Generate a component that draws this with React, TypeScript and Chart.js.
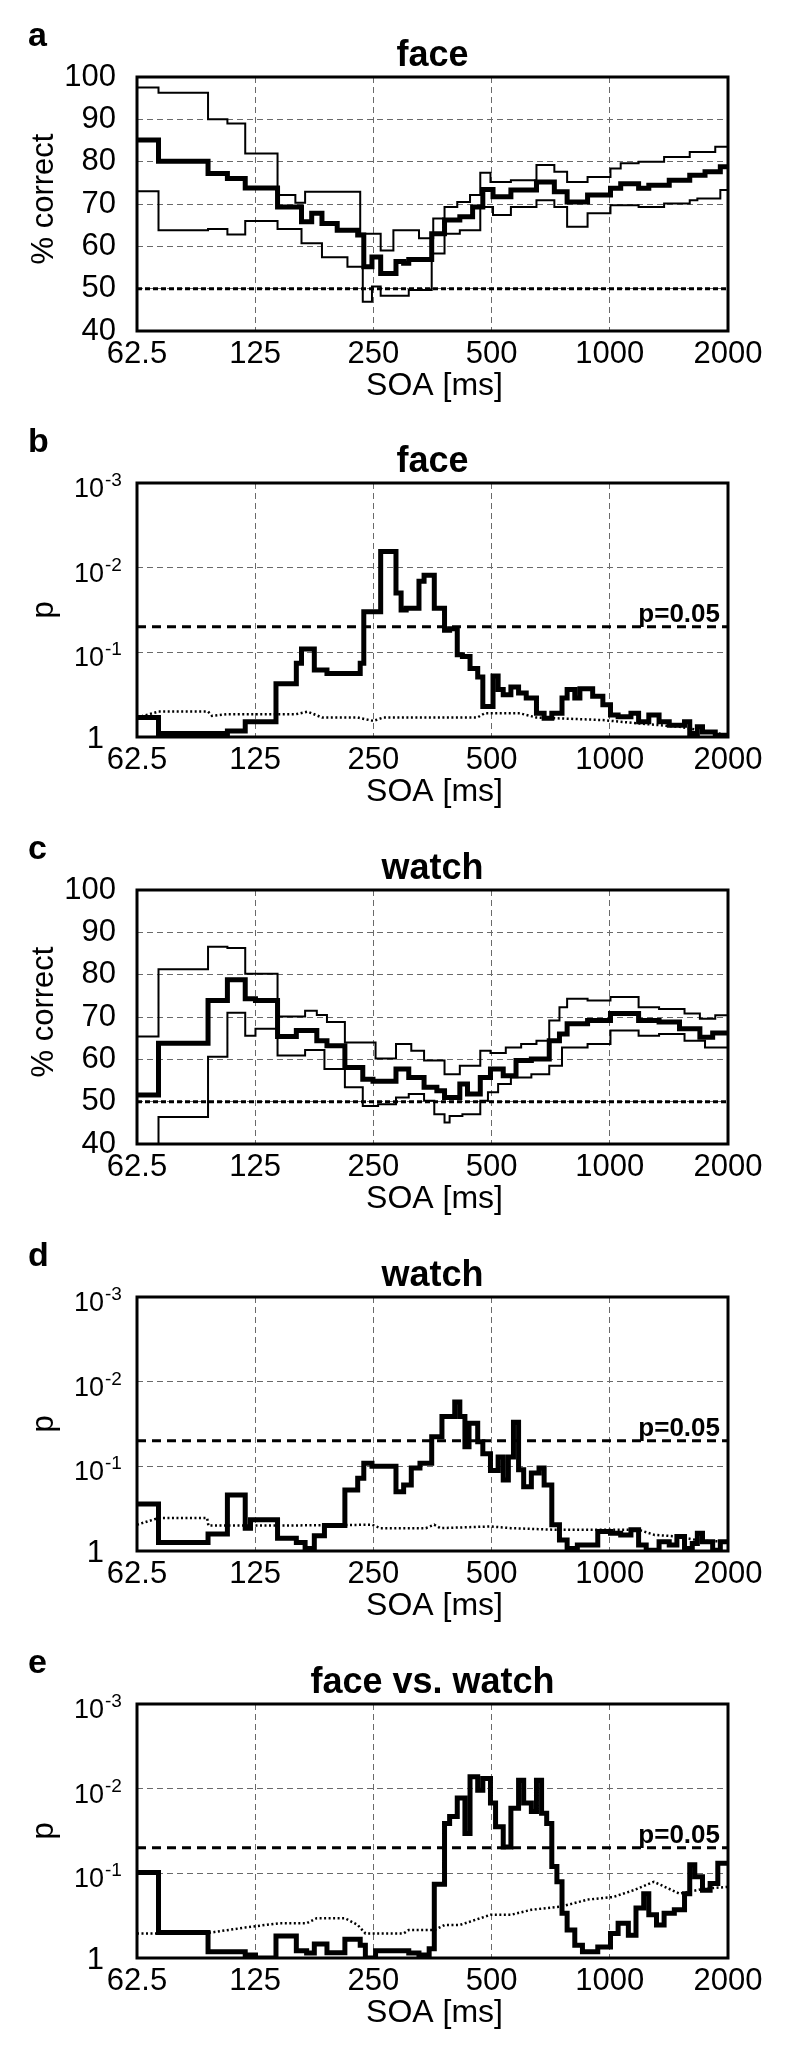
import React, { useEffect, useRef } from 'react';
import { Chart, registerables } from 'chart.js';

Chart.register(...registerables);

const FONT = '"Liberation Sans", Arial, Helvetica, sans-serif';

// ---------- axis ticks ----------
const xTickValues = [62.5, 125, 250, 500, 1000, 2000];
const xTickLabels = ['62.5', '125', '250', '500', '1000', '2000'];
const pctMin = 40;
const pctMax = 100;
const pctStep = 10;
const pExponents = [0, 1, 2, 3]; // tick positions in -log10(p)
const chanceLevel = 50;
const pThreshold = 0.05;

// ---------- panel a : face, % correct ([SOA ms, %]) ----------
const faceMean = [
  [62.5, 85.1], [70.9, 80.1], [94.8, 77.2], [106.2, 76.0], [117.9, 73.8], [142.5, 69.3],
  [164, 65.8], [174.1, 67.8], [184.9, 65.4], [202.2, 63.8], [228, 62.7], [236.3, 55.2],
  [247.9, 57.5], [260.9, 53.6], [285.4, 56.4], [298.5, 56.0], [307.6, 56.9], [351.9, 63.0],
  [379.4, 66.2], [415, 67.0], [447.3, 69.3], [474.9, 73.4], [504.2, 71.7], [559.9, 73.3],
  [650.5, 75.2], [722.4, 72.9], [778.6, 70.5], [877.8, 72.1], [1004, 73.7], [1066, 74.8],
  [1184, 73.7], [1257, 74.4], [1417, 75.6], [1598, 76.8], [1748, 77.6], [1912, 78.8], [2000, 78.8],
];
const faceUpper = [
  [62.5, 97.5], [70.9, 96.3], [94.8, 90.0], [106.2, 89.0], [117.9, 81.9], [142.5, 72.1],
  [158.2, 70.3], [167.5, 72.9], [231.4, 63.0], [260.9, 59.0], [281.1, 63.8], [326.6, 61.9],
  [355.1, 66.6], [379.4, 69.3], [408.8, 70.5], [440.6, 72.1], [467.9, 77.4], [496.7, 75.2],
  [559.9, 75.6], [650.5, 79.2], [722.4, 77.6], [778.6, 75.2], [877.8, 76.4], [1004, 78.4],
  [1066, 79.6], [1184, 80.0], [1375, 81.1], [1598, 82.3], [1856, 83.5], [2000, 83.5],
];
const faceLower = [
  [62.5, 73.0], [70.9, 63.8], [94.8, 64.1], [106.2, 62.8], [117.9, 66.0], [142.5, 64.1],
  [164, 60.7], [184.9, 57.4], [214.7, 55.2], [234.9, 46.9], [247.9, 50.5], [260.9, 48.3],
  [307.6, 49.7], [351.9, 58.3], [379.4, 63.0], [415, 63.8], [467.9, 69.3], [504.2, 67.4],
  [559.9, 69.3], [650.5, 70.9], [722.4, 69.3], [778.6, 64.6], [877.8, 67.8], [1004, 69.7],
  [1184, 69.3], [1375, 70.1], [1598, 70.9], [1671, 71.3], [1912, 73.3], [2000, 73.3],
];

// ---------- panel b : face, -log10(p) ----------
const faceNegLogP = [
  [62.5, 0.23], [70.9, 0.04], [106.2, 0.07], [117.9, 0.18], [141.2, 0.63], [159.1, 0.87],
  [164, 1.04], [176.8, 0.79], [190.4, 0.75], [231.4, 0.87], [236.3, 1.48], [260.9, 2.19],
  [285.4, 1.70], [294.1, 1.50], [303, 1.52], [326.6, 1.84], [336.5, 1.91], [357.3, 1.52],
  [379.4, 1.26], [390.9, 1.28], [408.8, 0.97], [421.3, 0.95], [440.6, 0.81], [460.9, 0.71],
  [474.9, 0.36], [504.2, 0.72], [519.5, 0.56], [535.3, 0.50], [559.9, 0.59], [585.7, 0.52],
  [612.6, 0.46], [650.5, 0.28], [680.4, 0.22], [711.7, 0.28], [755.6, 0.46], [778.6, 0.56],
  [814.4, 0.46], [839.2, 0.57], [904.4, 0.48], [960.1, 0.38], [1004, 0.26], [1050, 0.24],
  [1132, 0.28], [1184, 0.18], [1257, 0.26], [1335, 0.18], [1417, 0.14], [1550, 0.18],
  [1598, 0.04], [1671, 0.12], [1722, 0.06], [1856, 0.02], [2000, 0.02],
];
const faceNullNegLogP = [
  [62.5, 0.23], [70.9, 0.30], [94.8, 0.30], [97, 0.25], [106, 0.27], [159, 0.27], [170, 0.30],
  [185, 0.23], [228, 0.23], [250, 0.19], [265, 0.23], [460, 0.23], [480, 0.28], [590, 0.28],
  [650, 0.23], [960, 0.20], [1184, 0.16], [1505, 0.12], [1750, 0.07], [2000, 0.02],
];

// ---------- panel c : watch, % correct ----------
const watchMean = [
  [62.5, 51.6], [70.9, 63.8], [94.8, 73.9], [106.2, 78.8], [117.9, 74.3], [125.2, 73.9],
  [142.5, 65.4], [159.1, 66.8], [179.4, 64.4], [190.4, 63.2], [211.5, 58.1], [234.9, 55.3],
  [249.4, 54.8], [285.4, 57.7], [307.6, 55.7], [336.5, 53.4], [362.7, 52.6], [379.4, 51.0],
  [415, 54.2], [434.1, 51.8], [467.9, 55.7], [496.7, 57.7], [535.3, 56.1], [577, 59.7],
  [631.3, 60.1], [701.1, 64.4], [744.4, 66.0], [778.6, 68.4], [877.8, 69.2], [1004, 70.8],
  [1184, 69.2], [1335, 68.8], [1505, 67.2], [1696, 65.2], [1828, 66.2], [2000, 66.2],
];
const watchUpper = [
  [62.5, 65.4], [70.9, 81.3], [94.8, 86.6], [106.2, 86.3], [117.9, 80.2], [142.5, 70.1],
  [167.5, 71.5], [179.4, 70.5], [190.4, 68.8], [211.5, 64.0], [253.2, 60.2], [285.4, 63.6],
  [312.2, 62.0], [336.5, 59.7], [379.4, 56.5], [415, 58.5], [467.9, 62.0], [496.7, 61.5],
  [543.4, 62.8], [594.6, 63.6], [650.5, 64.4], [701.1, 69.2], [744.4, 72.3], [778.6, 74.3],
  [877.8, 73.9], [1004, 74.7], [1184, 72.3], [1335, 71.9], [1550, 70.8], [1696, 69.6],
  [1856, 70.4], [2000, 70.4],
];
const watchLower = [
  [62.5, 35.0], [70.9, 46.4], [94.8, 60.6], [106.2, 71.0], [117.9, 65.6], [125.2, 67.2],
  [142.5, 60.9], [167.5, 62.2], [187.6, 57.7], [211.5, 53.4], [234.9, 49.0], [257, 49.4],
  [285.4, 51.0], [307.6, 51.8], [336.5, 50.2], [357.3, 47.0], [379.4, 45.1], [390.9, 46.6],
  [421.3, 47.0], [467.9, 50.2], [489.4, 52.2], [519.5, 54.2], [559.9, 55.7], [631.3, 56.5],
  [701.1, 58.5], [755.6, 62.8], [877.8, 63.6], [1004, 66.8], [1184, 65.6], [1335, 66.0],
  [1550, 64.4], [1748, 62.8], [2000, 62.8],
];

// ---------- panel d : watch, -log10(p) ----------
const watchNegLogP = [
  [62.5, 0.555], [70.9, 0.10], [94.8, 0.20], [106.2, 0.66], [117.9, 0.27], [121.6, 0.37],
  [142.5, 0.15], [159.1, 0.10], [167.5, 0.03], [176.8, 0.18], [187.6, 0.30], [211.5, 0.72],
  [228, 0.86], [236.3, 1.035], [247.9, 1.0], [285.4, 0.70], [298.5, 0.78], [312.2, 0.98],
  [328.5, 1.035], [351.9, 1.35], [373.7, 1.59], [402.8, 1.76], [415, 1.59], [427.6, 1.23],
  [438, 1.51], [460.9, 1.29], [474.9, 1.15], [496.7, 0.95], [519.5, 1.11], [535.3, 0.84],
  [551.6, 1.11], [568.4, 1.52], [585.7, 0.96], [603.5, 0.76], [631.3, 0.92], [660.3, 0.98],
  [680.4, 0.78], [711.7, 0.31], [744.4, 0.13], [778.6, 0.03], [826.7, 0.07], [931.9, 0.23],
  [1004, 0.21], [1066, 0.19], [1132, 0.25], [1184, 0.07], [1238, 0.01], [1335, 0.11],
  [1417, 0.07], [1482, 0.17], [1550, 0.03], [1622, 0.09], [1671, 0.21], [1722, 0.11],
  [1828, 0.01], [1912, 0.11], [2000, 0.11],
];
const watchNullNegLogP = [
  [62.5, 0.31], [70.9, 0.39], [94.3, 0.39], [95, 0.30], [141, 0.30], [248, 0.31], [260, 0.27],
  [340, 0.27], [357, 0.31], [370, 0.27], [496, 0.29], [560, 0.27], [730, 0.25], [1184, 0.25],
  [1300, 0.19], [1500, 0.17], [1700, 0.12], [2000, 0.11],
];

// ---------- panel e : face vs. watch, -log10(p) ----------
const diffNegLogP = [
  [62.5, 1.01], [70.9, 0.30], [94.8, 0.075], [117.9, 0.035], [125.2, 0.0], [141.2, 0.26],
  [159.1, 0.087], [169, 0.06], [176.8, 0.165], [190.4, 0.063], [211.5, 0.22], [231.4, 0.15],
  [238.5, 0.0], [253.2, 0.087], [307.6, 0.06], [326.6, 0.035], [346.7, 0.11], [357.3, 0.87],
  [379.4, 1.59], [390.9, 1.67], [408.8, 1.89], [427.6, 1.47], [440.6, 2.14], [460.9, 1.98],
  [474.9, 2.12], [496.7, 1.83], [511.8, 1.55], [535.3, 1.31], [559.9, 1.77], [585.7, 2.10],
  [603.5, 1.83], [631.3, 1.73], [650.5, 2.10], [670.3, 1.71], [690.7, 1.59], [711.7, 1.08],
  [733.3, 0.90], [755.6, 0.53], [778.6, 0.33], [814.4, 0.15], [851.8, 0.075], [931.9, 0.13],
  [1004, 0.29], [1050, 0.41], [1115, 0.27], [1166, 0.59], [1220, 0.76], [1257, 0.51],
  [1315, 0.39], [1375, 0.53], [1460, 0.57], [1550, 0.76], [1598, 1.10], [1646, 0.96],
  [1722, 0.80], [1801, 0.88], [1884, 1.12], [2000, 1.12],
];
const diffNullNegLogP = [
  [62.5, 0.29], [92.8, 0.29], [117.9, 0.36], [143.5, 0.41], [169, 0.41], [179.4, 0.47],
  [211.5, 0.47], [228, 0.39], [238.5, 0.29], [298.5, 0.29], [307.6, 0.33], [357.3, 0.33],
  [379.4, 0.39], [415, 0.39], [454, 0.45], [496.7, 0.51], [559.9, 0.51], [631.3, 0.57],
  [755.6, 0.61], [877.8, 0.69], [1019, 0.72], [1149, 0.80], [1295, 0.90], [1505, 0.76],
  [1748, 0.82], [2000, 0.84],
];

// ---------- layout constants ----------
const PANEL_TOPS = [0, 406, 813, 1220, 1627];
const PANEL_H = 407;
const AREA_TOP = 77;
const AREA_BOTTOM = 331;
const AREA_LEFT = 137;
const AREA_RIGHT = 728;

type Pair = number[];
const toXY = (arr: Pair[]) => arr.map(([x, y]) => ({ x, y }));
const xEnds = [xTickValues[0], xTickValues[xTickValues.length - 1]];
const hLine = (v: number) => xEnds.map((x) => ({ x, y: v }));

type PanelCfg = {
  letter: string;
  title: string;
  kind: 'pct' | 'p';
  main: Pair[];
  upper?: Pair[];
  lower?: Pair[];
  nullLine?: Pair[];
};

const panels: PanelCfg[] = [
  { letter: 'a', title: 'face', kind: 'pct', main: faceMean, upper: faceUpper, lower: faceLower },
  { letter: 'b', title: 'face', kind: 'p', main: faceNegLogP, nullLine: faceNullNegLogP },
  { letter: 'c', title: 'watch', kind: 'pct', main: watchMean, upper: watchUpper, lower: watchLower },
  { letter: 'd', title: 'watch', kind: 'p', main: watchNegLogP, nullLine: watchNullNegLogP },
  { letter: 'e', title: 'face vs. watch', kind: 'p', main: diffNegLogP, nullLine: diffNullNegLogP },
];

const decorPlugin = {
  id: 'decor',
  afterDatasetsDraw(chart: any) {
    const { ctx, chartArea: ca } = chart;
    ctx.save();
    ctx.strokeStyle = '#000';
    ctx.lineWidth = 3;
    ctx.setLineDash([]);
    ctx.strokeRect(ca.left, ca.top, ca.right - ca.left, ca.bottom - ca.top);
    ctx.restore();
  },
  afterDraw(chart: any, _args: any, o: any) {
    const { ctx, chartArea: ca, scales } = chart;
    const cx = (ca.left + ca.right) / 2;
    ctx.save();
    ctx.fillStyle = '#000';
    ctx.textBaseline = 'alphabetic';

    ctx.font = `bold 34px ${FONT}`;
    ctx.textAlign = 'left';
    ctx.fillText(o.letter, 28, 46);

    ctx.font = `bold 36px ${FONT}`;
    ctx.textAlign = 'center';
    ctx.fillText(o.title, cx, 66);

    ctx.font = `32px ${FONT}`;
    ctx.fillText('SOA [ms]', cx + 2, ca.bottom + 64);

    ctx.save();
    const yc = (ca.top + ca.bottom) / 2 + (o.kind === 'pct' ? -5 : 0);
    ctx.translate(53, yc);
    ctx.rotate(-Math.PI / 2);
    ctx.font = `31px ${FONT}`;
    ctx.textAlign = 'center';
    ctx.fillText(o.kind === 'pct' ? '% correct' : 'p', 0, 0);
    ctx.restore();

    if (o.kind === 'p') {
      const ys = scales.y;
      pExponents.forEach((k) => {
        const y = ys.getPixelForValue(k);
        if (k === 0) {
          ctx.font = `31px ${FONT}`;
          ctx.textAlign = 'right';
          ctx.fillText('1', 104, y + 11);
        } else {
          ctx.font = `27px ${FONT}`;
          ctx.textAlign = 'right';
          ctx.fillText('10', 104, y + 14);
          ctx.font = `19px ${FONT}`;
          ctx.textAlign = 'left';
          ctx.fillText('-' + k, 105, y + 3);
        }
      });
      const ty = ys.getPixelForValue(-Math.log10(pThreshold));
      ctx.font = `bold 26px ${FONT}`;
      ctx.textAlign = 'right';
      ctx.fillText('p=' + String(pThreshold), ca.right - 8, ty - 5);
    }
    ctx.restore();
  },
};

function buildConfig(cfg: PanelCfg): any {
  const datasets: any[] = [];
  const base = { pointRadius: 0, borderColor: '#000', backgroundColor: '#000', fill: false, tension: 0 };
  if (cfg.kind === 'pct') {
    datasets.push({ ...base, data: hLine(chanceLevel), borderWidth: 3, borderDash: [5, 3], stepped: false });
    datasets.push({ ...base, data: toXY(cfg.main), borderWidth: 5, stepped: true });
    datasets.push({ ...base, data: toXY(cfg.upper!), borderWidth: 2, stepped: true });
    datasets.push({ ...base, data: toXY(cfg.lower!), borderWidth: 2, stepped: true });
  } else {
    datasets.push({ ...base, data: hLine(-Math.log10(pThreshold)), borderWidth: 3, borderDash: [9, 6], stepped: false });
    datasets.push({ ...base, data: toXY(cfg.main), borderWidth: 5, stepped: true });
    datasets.push({ ...base, data: toXY(cfg.nullLine!), borderWidth: 2.5, borderDash: [2, 2.5], stepped: false });
  }

  const grid = { color: '#6a6a6a', lineWidth: 1, drawTicks: false };
  const border = { display: false, dash: [6, 4] };

  const yScale: any =
    cfg.kind === 'pct'
      ? {
          type: 'linear',
          min: pctMin,
          max: pctMax,
          ticks: { stepSize: pctStep, padding: 21, color: '#000', font: { family: FONT, size: 31 } },
          grid,
          border,
          afterFit: (s: any) => { s.width = AREA_LEFT; },
        }
      : {
          type: 'linear',
          min: pExponents[0],
          max: pExponents[pExponents.length - 1],
          ticks: { stepSize: 1, display: false },
          grid,
          border,
          afterFit: (s: any) => { s.width = AREA_LEFT; },
        };

  return {
    type: 'line',
    data: { datasets },
    plugins: [decorPlugin],
    options: {
      responsive: false,
      maintainAspectRatio: false,
      devicePixelRatio: 1,
      animation: false,
      events: [],
      layout: { padding: { top: AREA_TOP, right: 800 - AREA_RIGHT, bottom: 0, left: 0 } },
      plugins: {
        legend: { display: false },
        tooltip: { enabled: false },
        title: { display: false },
        decor: { letter: cfg.letter, title: cfg.title, kind: cfg.kind },
      },
      scales: {
        x: {
          type: 'logarithmic',
          min: xTickValues[0],
          max: xTickValues[xTickValues.length - 1],
          afterBuildTicks: (s: any) => { s.ticks = xTickValues.map((v) => ({ value: v })); },
          afterFit: (s: any) => { s.height = PANEL_H - AREA_BOTTOM; },
          ticks: {
            autoSkip: false,
            maxRotation: 0,
            minRotation: 0,
            padding: 5,
            color: '#000',
            font: { family: FONT, size: 31 },
            callback: (_v: any, i: number) => xTickLabels[i],
          },
          grid,
          border,
        },
        y: yScale,
      },
    },
  };
}

function Panel({ cfg, top }: { cfg: PanelCfg; top: number }) {
  const ref = useRef<HTMLCanvasElement>(null);
  useEffect(() => {
    const chart = new Chart(ref.current as HTMLCanvasElement, buildConfig(cfg));
    return () => chart.destroy();
  }, [cfg]);
  return (
    <canvas
      ref={ref}
      width={800}
      height={PANEL_H}
      style={{ position: 'absolute', left: 0, top, width: 800, height: PANEL_H, display: 'block' }}
    />
  );
}

export default function App() {
  return (
    <div style={{ position: 'absolute', left: 0, top: 0, width: 800, height: 2046, background: '#fff' }}>
      {panels.map((p, i) => (
        <Panel key={p.letter} cfg={p} top={PANEL_TOPS[i]} />
      ))}
    </div>
  );
}
